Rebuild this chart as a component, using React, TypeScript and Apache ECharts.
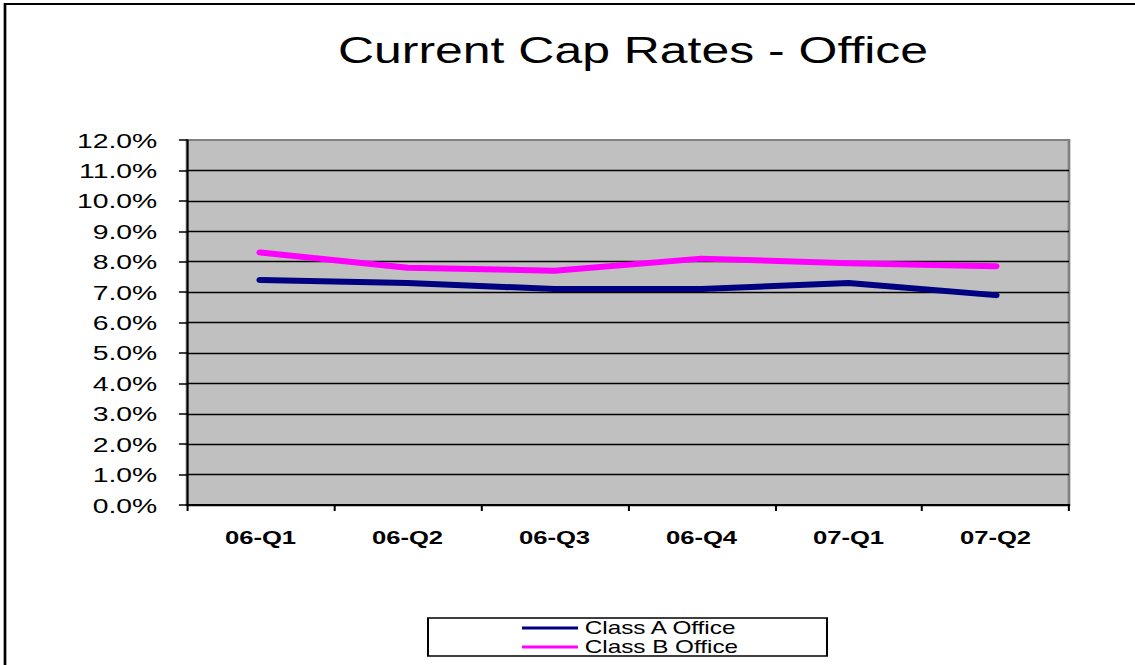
import React, { useEffect, useRef } from "react";
import * as echarts from "echarts";

const categories = ["06-Q1", "06-Q2", "06-Q3", "06-Q4", "07-Q1", "07-Q2"];
const classA = [7.4, 7.3, 7.1, 7.1, 7.3, 6.9];
const classB = [8.3, 7.8, 7.7, 8.1, 7.95, 7.85];
const seriesNames = ["Class A Office", "Class B Office"];
const titleText = "Current Cap Rates - Office";

const FULL_W = 1135;
const FULL_H = 665;
const W = 841;
const S = FULL_W / W;
const FONT = '"Liberation Sans", Arial, Helvetica, sans-serif';

export default function App() {
  const ref = useRef<HTMLDivElement>(null);
  useEffect(() => {
    if (!ref.current) return;
    const chart = echarts.init(ref.current, undefined, { renderer: "svg" });
    const sx = (v: number) => v / S;
    chart.setOption({
      animation: false,
      backgroundColor: "#ffffff",
      textStyle: { fontFamily: FONT },
      title: {
        text: titleText,
        left: sx(338),
        top: 31,
        padding: 0,
        textStyle: { fontFamily: FONT, fontSize: 37, fontWeight: "normal", color: "#000" },
      },
      graphic: [
        {
          type: "rect",
          shape: { x: sx(5), y: 4, width: 1000, height: 800 },
          style: { fill: "none", stroke: "#000", lineWidth: 2 },
          silent: true,
          z: 100,
        },
        {
          type: "rect",
          shape: { x: sx(428), y: 618, width: sx(827) - sx(428), height: 38 },
          style: { fill: "#fff", stroke: "#000", lineWidth: 1.5 },
          silent: true,
          z: 0,
        },
      ],
      legend: {
        orient: "vertical",
        left: sx(522),
        top: 619,
        padding: 0,
        itemGap: 1,
        itemWidth: sx(578) - sx(522),
        itemHeight: 3,
        icon: "rect",
        data: seriesNames,
        textStyle: { fontFamily: FONT, fontSize: 18, color: "#000", lineHeight: 18, padding: [0, 0, 0, 0] },
        z: 10,
      },
      grid: {
        left: sx(187),
        right: W - sx(1069),
        top: 140,
        bottom: FULL_H - 505,
        show: true,
        backgroundColor: "#C0C0C0",
        borderColor: "#808080",
        borderWidth: 2,
      },
      xAxis: {
        type: "category",
        data: categories,
        boundaryGap: true,
        axisLine: { show: true, lineStyle: { color: "#000", width: 2 } },
        axisTick: { show: true, length: 6, lineStyle: { color: "#000", width: 1.5 } },
        axisLabel: {
          margin: 23,
          fontFamily: FONT,
          fontSize: 19,
          fontWeight: "bold",
          color: "#000",
        },
        splitLine: { show: false },
      },
      yAxis: {
        type: "value",
        min: 0,
        max: 12,
        interval: 1,
        axisLine: { show: true, lineStyle: { color: "#000", width: 1.5 } },
        axisTick: { show: true, length: 6, lineStyle: { color: "#000", width: 1.5 } },
        axisLabel: {
          margin: 22,
          fontFamily: FONT,
          fontSize: 21,
          color: "#000",
          formatter: (v: number) => `${v.toFixed(1)}%`,
        },
        splitLine: {
          show: true,
          showMaxLine: false,
          lineStyle: { color: "#000", width: 1.4 },
        },
      },
      series: [
        {
          name: seriesNames[0],
          type: "line",
          data: classA,
          symbol: "none",
          color: "#000080",
          itemStyle: { color: "#000080" },
          lineStyle: { color: "#000080", width: 6, cap: "round", join: "round" },
          z: 3,
        },
        {
          name: seriesNames[1],
          type: "line",
          data: classB,
          symbol: "none",
          color: "#FF00FF",
          itemStyle: { color: "#FF00FF" },
          lineStyle: { color: "#FF00FF", width: 6, cap: "round", join: "round" },
          z: 4,
        },
      ],
    });
    return () => chart.dispose();
  }, []);

  return (
    <div
      style={{
        position: "fixed",
        left: 0,
        top: 0,
        width: FULL_W,
        height: FULL_H,
        overflow: "hidden",
        background: "#fff",
      }}
    >
      <div
        ref={ref}
        style={{
          width: W,
          height: FULL_H,
          transform: `scaleX(${S})`,
          transformOrigin: "0 0",
        }}
      />
    </div>
  );
}
